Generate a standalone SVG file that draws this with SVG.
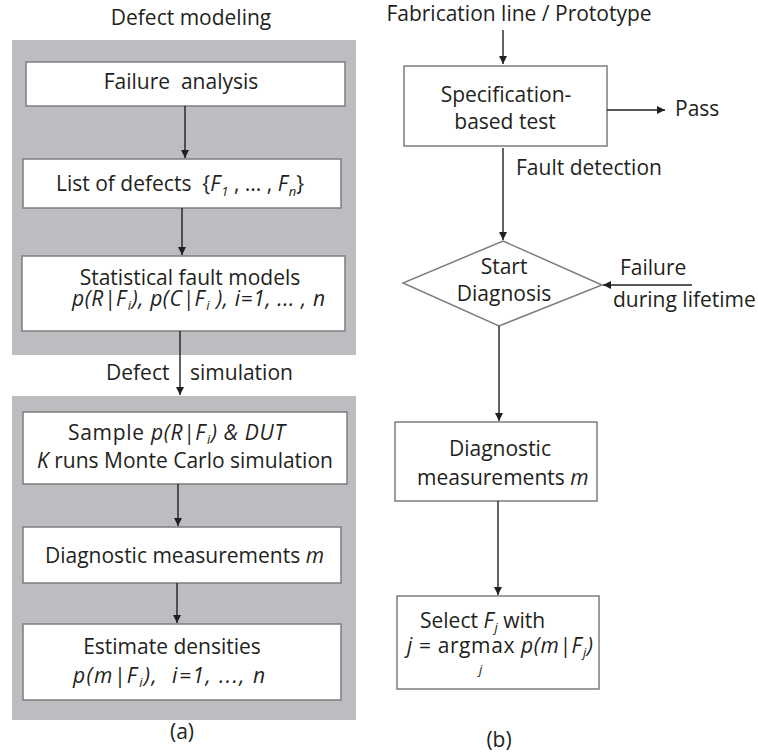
<svg xmlns="http://www.w3.org/2000/svg" width="758" height="756" viewBox="0 0 758 756">
<defs>
<marker id="ah" markerWidth="10" markerHeight="10" refX="8" refY="4" orient="auto" markerUnits="userSpaceOnUse">
<path d="M0,0 L8,4 L0,8 Z" fill="#231f20"/>
</marker>
<style>
text{font-family:"Open Sans","Noto Sans",sans-serif;font-size:21px;fill:#231f20;white-space:pre}
.it{font-style:italic}
.sub{font-size:13px}
.panel{fill:#bcbdc0}
.box{fill:#fff;stroke:#7d7d7d;stroke-width:1.5}
.c{stroke:#231f20;stroke-width:1.4;fill:none;marker-end:url(#ah)}
</style>
</defs>
<rect width="758" height="756" fill="#fff"/>

<g id="panel-a">
<rect class="panel" x="12" y="40" width="344" height="315"/>
<rect class="panel" x="12" y="396" width="344" height="324"/>
</g>

<g id="title-a"><text x="191" y="25" text-anchor="middle">Defect modeling</text></g>

<g id="failure-analysis">
<rect class="box" x="26" y="62" width="319" height="44"/>
<text x="181" y="89" text-anchor="middle">Failure  analysis</text>
</g>

<g id="list-defects">
<rect class="box" x="23" y="159" width="318" height="49"/>
<text x="56" y="191">List of defects  {<tspan class="it">F</tspan><tspan class="it sub" dy="5" dx="1">1</tspan><tspan dy="-5"> , ... , </tspan><tspan class="it">F</tspan><tspan class="it sub" dy="5" dx="1">n</tspan><tspan dy="-5">}</tspan></text>
</g>

<g id="fault-models">
<rect class="box" x="22" y="256" width="323" height="75"/>
<text x="190" y="285" text-anchor="middle">Statistical fault models</text>
<text x="72" y="306" class="it" textLength="253" lengthAdjust="spacing">p(R|F<tspan class="sub" dy="4" dx="1">i</tspan><tspan dy="-4">), p(C|F</tspan><tspan class="sub" dy="4" dx="1">i</tspan><tspan dy="-4"> ), i=1, ... , n</tspan></text>
</g>

<g id="defect-sim-label">
<text x="106" y="380">Defect</text>
<text x="190" y="380">simulation</text>
</g>

<g id="sample">
<rect class="box" x="23" y="412" width="324" height="72"/>
<text x="68" y="440" textLength="217" lengthAdjust="spacing">Sample <tspan class="it">p(R|F</tspan><tspan class="it sub" dy="4" dx="1">i</tspan><tspan class="it" dy="-4">) &amp; DUT</tspan></text>
<text x="37" y="468"><tspan class="it">K</tspan> runs Monte Carlo simulation</text>
</g>

<g id="diag-meas-a">
<rect class="box" x="23" y="527" width="318" height="56"/>
<text x="45" y="563">Diagnostic measurements <tspan class="it">m</tspan></text>
</g>

<g id="estimate">
<rect class="box" x="23" y="624" width="318" height="76"/>
<text x="172" y="654" text-anchor="middle">Estimate densities</text>
<text x="73" y="683" class="it" textLength="192" lengthAdjust="spacing">p(m|F<tspan class="sub" dy="4" dx="1">i</tspan><tspan dy="-4">),  i=1, ..., n</tspan></text>
</g>

<g id="label-a"><text x="182" y="739" text-anchor="middle">(a)</text></g>

<g id="fab-line"><text x="519" y="21" text-anchor="middle">Fabrication line / Prototype</text></g>

<g id="spec-test">
<rect class="box" x="404" y="66" width="203" height="80"/>
<text x="506" y="102" text-anchor="middle">Specification-</text>
<text x="505" y="129" text-anchor="middle">based test</text>
</g>

<g id="pass"><text x="675" y="116">Pass</text></g>

<g id="fault-det"><text x="516" y="175">Fault detection</text></g>

<g id="start-diag">
<polygon points="503,241 602,285 499,326 403,283" fill="#fff" stroke="#7d7d7d" stroke-width="1.5"/>
<text x="504" y="274" text-anchor="middle">Start</text>
<text x="504" y="301" text-anchor="middle">Diagnosis</text>
</g>

<g id="failure-life">
<text x="620" y="275">Failure</text>
<text x="613" y="307">during lifetime</text>
</g>

<g id="diag-meas-b">
<rect class="box" x="395" y="422" width="202" height="79"/>
<text x="500" y="456" text-anchor="middle">Diagnostic</text>
<text x="417" y="485">measurements <tspan class="it">m</tspan></text>
</g>

<g id="select">
<rect class="box" x="397" y="596" width="202" height="93"/>
<text x="420" y="628">Select <tspan class="it">F</tspan><tspan class="it sub" dy="4" dx="1">j</tspan><tspan dy="-4"> with</tspan></text>
<text x="407" y="653" textLength="186" lengthAdjust="spacing"><tspan class="it">j</tspan> = argmax <tspan class="it">p(m|F</tspan><tspan class="it sub" dy="4" dx="1">j</tspan><tspan class="it" dy="-4">)</tspan></text>
<text x="479" y="674" class="it sub">j</text>
</g>

<g id="label-b"><text x="499" y="747" text-anchor="middle">(b)</text></g>

<g id="connectors">
<line class="c" x1="185" y1="106" x2="185" y2="158"/>
<line class="c" x1="182" y1="208" x2="182" y2="255"/>
<line class="c" x1="180" y1="331" x2="180" y2="395"/>
<line class="c" x1="178" y1="484" x2="178" y2="526"/>
<line class="c" x1="177" y1="583" x2="177" y2="623"/>
<line class="c" x1="503" y1="30" x2="503" y2="64"/>
<line class="c" x1="607" y1="110" x2="665" y2="110"/>
<line class="c" x1="503" y1="148" x2="503" y2="240"/>
<line class="c" x1="692" y1="285" x2="603" y2="285"/>
<line class="c" x1="499" y1="326" x2="499" y2="421"/>
<line class="c" x1="498" y1="501" x2="498" y2="595"/>
</g>
</svg>
